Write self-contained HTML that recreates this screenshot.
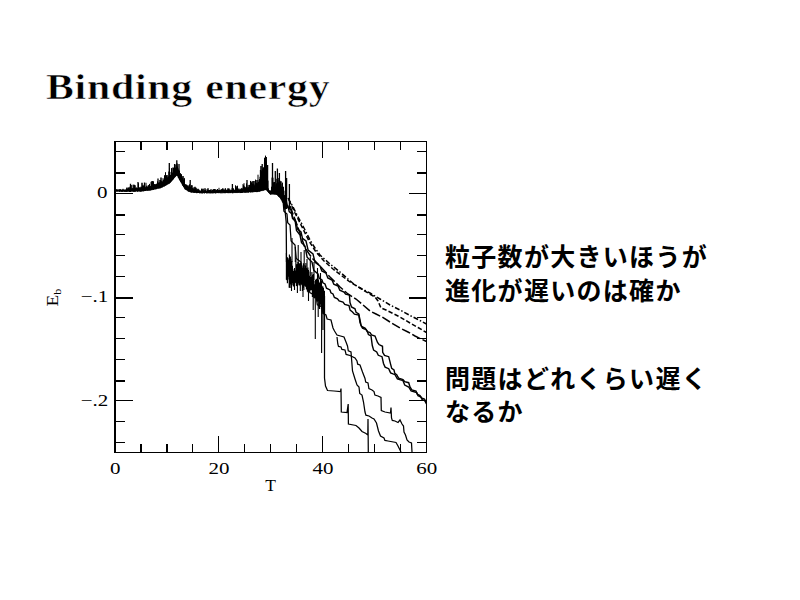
<!DOCTYPE html>
<html lang="ja">
<head>
<meta charset="utf-8">
<title>Binding energy</title>
<style>
html,body{margin:0;padding:0;background:#fff;}
body{width:800px;height:600px;position:relative;overflow:hidden;color:#000;}
#title{position:absolute;left:46px;top:64.5px;margin:0;font-family:"Liberation Serif",serif;font-weight:bold;
 font-size:36px;line-height:44px;white-space:nowrap;transform-origin:0 0;transform:scaleX(1.16);letter-spacing:0.65px;word-spacing:1px;-webkit-text-stroke:0.55px #fff;}
#plot{position:absolute;left:0;top:0;}
.jp{position:absolute;left:445px;margin:0;font-family:"Liberation Sans","Noto Sans CJK JP",sans-serif;
 font-weight:bold;font-size:25px;letter-spacing:1.3px;line-height:33.5px;white-space:nowrap;}
#p1{top:241px;}
#p2{top:362.5px;}
</style>
</head>
<body>
<h1 id="title">Binding energy</h1>
<svg id="plot" width="800" height="600" viewBox="0 0 800 600">
<g fill="#000" shape-rendering="crispEdges"><rect x="114" y="141" width="2" height="312"/><rect x="114" y="141" width="313" height="1"/><rect x="426" y="141" width="1" height="312"/><rect x="114" y="452" width="313" height="1"/><rect x="140" y="141" width="2" height="9"/><rect x="140" y="444" width="2" height="9"/><rect x="166" y="141" width="2" height="9"/><rect x="166" y="444" width="2" height="9"/><rect x="192" y="141" width="1" height="9"/><rect x="192" y="444" width="1" height="9"/><rect x="218" y="141" width="1" height="17"/><rect x="218" y="436" width="1" height="17"/><rect x="244" y="141" width="1" height="9"/><rect x="244" y="444" width="1" height="9"/><rect x="270" y="141" width="1" height="9"/><rect x="270" y="444" width="1" height="9"/><rect x="296" y="141" width="1" height="9"/><rect x="296" y="444" width="1" height="9"/><rect x="322" y="141" width="1" height="17"/><rect x="322" y="436" width="1" height="17"/><rect x="348" y="141" width="1" height="9"/><rect x="348" y="444" width="1" height="9"/><rect x="374" y="141" width="1" height="9"/><rect x="374" y="444" width="1" height="9"/><rect x="400" y="141" width="1" height="9"/><rect x="400" y="444" width="1" height="9"/><rect x="115" y="151" width="10" height="1"/><rect x="417" y="151" width="10" height="1"/><rect x="115" y="172" width="10" height="2"/><rect x="417" y="172" width="10" height="2"/><rect x="115" y="193" width="18" height="1"/><rect x="409" y="193" width="18" height="1"/><rect x="115" y="214" width="10" height="2"/><rect x="417" y="214" width="10" height="2"/><rect x="115" y="234" width="10" height="1"/><rect x="417" y="234" width="10" height="1"/><rect x="115" y="255" width="10" height="1"/><rect x="417" y="255" width="10" height="1"/><rect x="115" y="276" width="10" height="1"/><rect x="417" y="276" width="10" height="1"/><rect x="115" y="297" width="18" height="2"/><rect x="409" y="297" width="18" height="2"/><rect x="115" y="317" width="10" height="1"/><rect x="417" y="317" width="10" height="1"/><rect x="115" y="338" width="10" height="1"/><rect x="417" y="338" width="10" height="1"/><rect x="115" y="359" width="10" height="1"/><rect x="417" y="359" width="10" height="1"/><rect x="115" y="380" width="10" height="2"/><rect x="417" y="380" width="10" height="2"/><rect x="115" y="400" width="18" height="1"/><rect x="409" y="400" width="18" height="1"/><rect x="115" y="421" width="10" height="1"/><rect x="417" y="421" width="10" height="1"/><rect x="115" y="442" width="10" height="1"/><rect x="417" y="442" width="10" height="1"/></g>
<path d="M115.00 191.5V189.3M115.50 191.4V189.8M116.00 191.4V189.8M116.50 191.6V189.2M117.00 191.6V190.2M117.50 191.5V189.6M118.00 191.7V189.2M118.50 191.4V190.2M119.00 191.4V189.3M119.50 191.9V189.3M120.00 191.8V189.6M120.50 191.4V189.2M121.00 191.8V189.7M121.50 191.8V189.7M122.00 191.9V190.0M122.50 191.8V189.4M123.00 191.9V188.8M123.50 191.5V189.5M124.00 191.5V189.7M124.50 191.8V190.0M125.00 192.0V189.2M125.50 191.8V189.7M126.00 192.0V190.1M126.50 191.9V188.4M127.00 191.9V188.7M127.50 191.7V188.7M128.00 191.5V189.3M128.50 191.6V187.4M129.00 191.6V188.9M129.50 192.0V188.5M130.00 191.8V187.7M130.50 192.0V188.7M131.00 191.6V185.4M131.50 191.5V188.5M132.00 191.5V188.5M132.50 191.5V188.1M133.00 191.6V184.7M133.50 191.8V188.2M134.00 191.8V184.9M134.50 191.8V187.3M135.00 191.6V188.3M135.50 191.7V187.8M136.00 191.4V187.8M136.50 191.3V187.5M137.00 191.3V187.9M137.50 191.8V188.2M138.00 191.4V187.7M138.50 191.3V183.2M139.00 191.5V187.8M139.50 191.3V187.5M140.00 191.7V187.2M140.50 191.7V187.6M141.00 191.4V186.6M141.50 191.6V187.0M142.00 191.1V187.1M142.50 191.4V185.7M143.00 191.0V184.8M143.50 191.4V185.6M144.00 191.2V187.3M144.50 191.0V186.7M145.00 190.6V186.5M145.50 191.0V187.2M146.00 191.0V182.8M146.50 190.6V186.2M147.00 190.5V185.5M147.50 190.8V186.7M148.00 190.6V186.7M148.50 190.6V185.1M149.00 190.6V186.1M149.50 190.5V183.9M150.00 190.6V185.8M150.50 190.5V186.1M151.00 189.9V181.8M151.50 190.2V182.9M152.00 190.2V185.6M152.50 189.8V184.8M153.00 190.0V185.1M153.50 189.9V182.0M154.00 189.7V184.5M154.50 189.3V184.1M155.00 189.2V184.6M155.50 189.4V184.2M156.00 189.1V184.9M156.50 189.2V184.0M157.00 188.9V183.4M157.50 188.6V181.3M158.00 188.4V182.3M158.50 188.6V182.8M159.00 188.5V183.4M159.50 188.3V182.4M160.00 188.4V182.1M160.50 188.2V182.5M161.00 187.9V181.6M161.50 187.7V181.2M162.00 187.4V180.6M162.50 187.4V181.5M163.00 187.0V178.1M163.50 186.6V179.7M164.00 186.3V179.7M164.50 186.5V175.3M165.00 186.0V178.7M165.50 185.7V172.2M166.00 185.4V179.3M166.50 185.2V175.5M167.00 184.7V177.8M167.50 184.5V177.5M168.00 184.4V176.5M168.50 183.9V176.5M169.00 183.7V176.7M169.50 183.6V168.0M170.00 182.8V175.3M170.50 182.7V174.9M171.00 182.0V171.9M171.50 181.4V168.1M172.00 181.0V173.9M172.50 180.1V173.0M173.00 179.5V172.0M173.50 179.3V167.9M174.00 178.3V171.0M174.50 177.8V165.9M175.00 177.2V168.4M175.50 176.7V167.9M176.00 176.1V167.2M176.50 175.8V167.2M177.00 175.5V165.7M177.50 176.1V166.8M178.00 177.4V168.2M178.50 178.1V169.7M179.00 179.2V169.9M179.50 180.1V171.0M180.00 180.9V173.1M180.50 181.9V173.3M181.00 182.6V174.6M181.50 183.4V174.2M182.00 184.4V176.7M182.50 185.5V178.1M183.00 186.0V179.1M183.50 187.0V180.1M184.00 187.7V177.9M184.50 188.7V178.3M185.00 189.4V184.0M185.50 189.7V184.3M186.00 189.9V184.9M186.50 190.2V184.6M187.00 190.4V184.9M187.50 190.8V185.8M188.00 191.4V185.4M188.50 191.6V186.4M189.00 191.8V185.3M189.50 191.8V184.3M190.00 192.1V186.5M190.50 192.3V187.1M191.00 192.3V186.6M191.50 192.6V185.3M192.00 192.7V188.6M192.50 192.4V188.0M193.00 192.4V188.8M193.50 192.8V188.3M194.00 192.7V187.0M194.50 192.9V189.0M195.00 192.9V188.0M195.50 192.7V188.9M196.00 193.0V188.6M196.50 193.2V189.8M197.00 193.0V189.4M197.50 193.1V190.2M198.00 192.8V189.1M198.50 193.0V190.2M199.00 192.9V189.6M199.50 193.3V190.5M200.00 193.2V190.2M200.50 193.0V190.9M201.00 193.5V190.9M201.50 193.2V188.6M202.00 193.2V190.0M202.50 193.5V189.8M203.00 193.0V188.4M203.50 193.0V190.7M204.00 193.4V190.6M204.50 193.4V190.3M205.00 192.9V190.3M205.50 193.0V189.8M206.00 193.1V190.8M206.50 193.3V190.8M207.00 193.4V189.1M207.50 193.0V190.1M208.00 193.5V190.4M208.50 193.1V190.0M209.00 192.9V190.7M209.50 193.4V190.0M210.00 193.1V189.9M210.50 193.4V189.9M211.00 193.2V189.0M211.50 193.2V190.6M212.00 193.3V189.6M212.50 193.2V190.0M213.00 193.4V189.7M213.50 193.0V189.5M214.00 193.4V189.7M214.50 193.0V190.3M215.00 192.9V189.8M215.50 193.4V190.3M216.00 193.4V190.9M216.50 192.9V189.9M217.00 193.0V189.7M217.50 193.0V189.0M218.00 193.2V190.1M218.50 193.1V190.1M219.00 192.8V187.8M219.50 192.9V190.0M220.00 193.3V189.9M220.50 192.9V190.1M221.00 193.4V189.4M221.50 192.8V189.2M222.00 193.3V190.0M222.50 192.8V188.4M223.00 193.3V188.5M223.50 192.9V189.7M224.00 193.1V188.6M224.50 193.2V189.7M225.00 193.0V190.3M225.50 193.2V188.2M226.00 193.1V189.9M226.50 192.9V190.0M227.00 192.8V189.5M227.50 193.1V190.0M228.00 193.1V189.5M228.50 193.0V190.5M229.00 193.3V190.1M229.50 192.9V190.2M230.00 192.9V189.4M230.50 193.1V190.1M231.00 193.1V190.7M231.50 192.7V189.9M232.00 193.1V188.2M232.50 193.2V190.2M233.00 193.3V188.1M233.50 192.8V188.5M234.00 192.9V190.6M234.50 192.8V189.7M235.00 193.1V190.7M235.50 192.9V185.3M236.00 192.7V189.4M236.50 192.9V187.7M237.00 193.1V186.9M237.50 192.8V185.7M238.00 193.0V188.3M238.50 192.8V189.3M239.00 192.6V188.7M239.50 192.7V189.8M240.00 193.1V188.7M240.50 193.0V189.3M241.00 192.5V188.8M241.50 193.0V188.3M242.00 193.0V187.9M242.50 192.9V188.7M243.00 192.4V184.1M243.50 192.5V185.2M244.00 192.5V183.2M244.50 192.7V186.4M245.00 192.5V187.4M245.50 192.7V187.5M246.00 192.8V186.8M246.50 192.5V183.3M247.00 192.4V186.8M247.50 192.5V187.7M248.00 192.6V185.1M248.50 192.6V187.1M249.00 192.3V184.9M249.50 192.1V184.9M250.00 192.2V186.1M250.50 192.4V180.9M251.00 192.5V187.1M251.50 192.0V185.6M252.00 192.4V186.1M252.50 192.2V185.4M253.00 192.3V185.7M253.50 191.9V186.3M254.00 192.2V184.3M254.50 191.9V185.4M255.00 191.9V185.7M255.50 192.0V179.6M256.00 192.1V182.9M256.50 192.1V185.9M257.00 192.0V182.5M257.50 192.1V183.3M258.00 191.6V174.7M258.50 191.7V181.9M259.00 191.8V180.1M259.50 191.7V179.0M260.00 191.5V176.8M260.50 191.2V174.4M261.00 191.1V171.9M261.50 190.9V171.2M262.00 191.1V170.2M262.50 190.7V169.2M263.00 190.5V167.5M263.50 190.7V167.7M264.00 190.3V167.1M264.50 190.2V157.7M265.00 190.1V165.8M265.50 190.1V155.6M266.00 189.9V162.2M266.50 190.3V161.6M267.00 191.0V170.7M267.50 191.7V173.1M268.00 191.7V180.6M268.50 192.8V188.4M269.00 193.1V190.7M269.50 193.7V190.5M270.00 194.2V190.8M270.50 194.7V190.7M271.00 194.7V191.8M271.50 194.1V186.7M272.00 194.6V177.6M272.50 194.2V182.3M273.00 194.3V177.7M273.50 194.3V182.2M274.00 194.6V184.0M274.50 194.5V182.0M275.00 194.4V185.3M275.50 194.5V186.6M276.00 194.9V184.3M276.50 194.8V183.4M277.00 195.0V183.2M277.50 195.5V181.4M278.00 196.0V179.9M278.50 196.7V182.6M279.00 197.0V182.0M279.50 197.5V181.6M280.00 198.0V180.7M280.50 198.6V181.6M281.00 199.7V184.0M281.50 200.4V186.7M282.00 201.5V186.7M282.50 202.4V182.6M283.00 203.0V186.9M283.50 204.5V186.8M284.00 206.2V190.7M284.50 208.0V195.1M285.00 210.2V195.3" fill="none" stroke="#000" stroke-width="1.0"/>
<path d="M127.0 190.8V187.5M130.0 190.8V186.8M131.0 190.7V184.9M134.0 190.7V184.8M135.0 190.6V185.2M142.0 190.3V182.8M152.0 188.9V181.3M153.0 188.7V180.9M160.0 187.2V180.1M161.0 186.8V177.6M165.0 185.2V175.5M167.0 183.9V174.9M169.0 182.7V171.5M173.0 178.8V167.6M175.0 176.3V164.4M177.0 174.5V163.6M183.0 185.2V176.1M192.0 191.6V185.2M195.0 191.8V186.7M196.0 191.9V187.7M198.0 192.0V188.7M203.0 192.2V189.0M205.0 192.2V188.3M208.0 192.2V188.3M214.0 192.1V189.0M215.0 192.1V188.9M228.0 192.0V188.2M229.0 192.0V188.6M251.0 191.3V182.5M252.0 191.2V181.5M253.0 191.2V183.7M254.0 191.2V181.0M256.0 191.1V183.0M257.0 191.0V180.1M261.0 190.2V166.0M266.0 189.0V157.1M269.0 192.2V190.4M270.0 193.4V190.6M277.0 194.0V178.7M279.0 196.0V177.9M281.0 198.7V181.3" fill="none" stroke="#000" stroke-width="1.5"/>
<path d="M130.5 190.7V183.8M138.0 190.6V182.0M144.5 190.0V182.5M152.0 188.9V181.5M158.0 187.6V178.5M169.3 182.5V163.0M174.6 176.8V164.0M176.8 174.7V160.3M179.0 178.0V164.0M190.2 191.0V180.0M232.4 192.0V184.0M237.0 191.9V186.0M247.0 191.5V180.0M253.0 191.2V181.0M260.5 190.3V170.0M262.2 189.9V164.0M264.6 189.3V162.0M266.2 189.2V157.0M267.6 190.6V165.0M272.5 193.4V163.0M275.3 193.7V171.0M277.4 194.4V168.5M279.4 196.4V173.0M285.6 209.0V171.0M286.6 209.0V178.0M289.4 209.0V184.0" fill="none" stroke="#000" stroke-width="1.3"/>
<path d="M286.40 253.1V279.7M286.90 258.6V280.3M287.40 257.3V283.3M287.90 258.0V276.8M288.40 262.1V269.1M288.90 259.4V279.4M289.40 254.6V287.3M289.90 256.9V279.7M290.40 256.6V284.4M290.90 258.8V288.0M291.40 263.7V270.7M291.90 260.9V283.2M292.40 265.7V272.7M292.90 269.3V285.2M293.40 271.0V286.5M293.90 272.2V285.8M294.40 272.6V283.1M294.90 270.6V283.2M295.40 272.1V282.7M295.90 259.4V280.9M296.40 264.5V286.1M296.90 264.2V283.3M297.40 263.9V286.4M297.90 262.1V282.4M298.40 262.6V283.4M298.90 263.3V285.2M299.40 263.4V285.5M299.90 265.5V283.2M300.40 263.1V283.7M300.90 263.6V285.2M301.40 264.7V284.5M301.90 268.6V275.6M302.40 267.7V291.0M302.90 265.6V287.9M303.40 263.2V284.2M303.90 264.8V290.1M304.40 272.5V279.5M304.90 267.9V285.7M305.40 265.5V286.8M305.90 263.1V285.1M306.40 268.1V289.4M306.90 268.8V285.1M307.40 268.7V291.4M307.90 267.6V292.2M308.40 270.0V287.3M308.90 271.6V288.2M309.40 277.3V289.4M309.90 275.7V286.5M310.40 283.6V290.6M310.90 276.5V290.5M311.40 280.2V287.2M311.90 272.0V290.0M312.40 275.0V297.0M312.90 281.3V288.3M313.40 274.0V296.6M313.90 280.8V298.0M314.40 287.6V294.6M314.90 284.2V298.4M315.40 279.8V297.8M315.90 281.2V288.2M316.40 278.7V300.1M316.90 280.8V298.7M317.40 281.2V301.7M317.90 274.8V300.9M318.40 279.4V301.1M318.90 281.7V307.6M319.40 282.7V309.0M319.90 283.2V304.6M320.40 293.1V300.1M320.90 284.2V306.0M321.40 280.6V309.1M321.90 285.8V308.4M322.40 295.8V302.8M322.90 286.4V311.0M323.40 287.9V313.7M323.90 291.6V311.5M324.40 290.8V314.5" fill="none" stroke="#000" stroke-width="1.15"/>
<path d="M283.5 200.0 L285.0 210.0 L286.2 222.0 L286.5 262.0" fill="none" stroke="#000" stroke-width="1.3"/>
<path d="M324.5 296.0 L324.5 378.0 L325.5 386.0 L327.5 390.5 L334.0 391.0 L340.5 391.5 L341.0 388.5 L341.3 412.0 L347.0 412.5 L348.2 404.0 L348.4 424.0 L356.0 425.5 L359.0 428.0 L362.0 431.5 L366.0 433.5 L367.8 435.0 L368.0 419.0 L368.3 452.0" fill="none" stroke="#000" stroke-width="1.25"/>
<path d="M315.3 285V339M318.2 290V317M321.6 292V353M323 295V330M313.2 284V310M308.5 280V301M303 276V297M297.4 270V293M291.5 268V291M289.3 268V288M294.5 268V290M300.3 270V291" fill="none" stroke="#000" stroke-width="1.1"/>
<path d="M292 262V238M295.3 262V247M298.2 266V245M301 268V252M304.2 270V250M307 272V259M310.3 276V257M314 280V262M317.5 282V268M320.5 286V273" fill="none" stroke="#000" stroke-width="1.1"/>
<path d="M283.0 200.0 L283.9 211.2 L287.0 214.0 L287.7 222.8 L290.0 225.0 L291.1 241.0 L295.0 245.0 L296.3 258.6 L301.0 262.0 L302.5 275.6 L308.0 279.0 L309.8 292.6 L316.0 296.0 L317.3 304.8 L322.0 307.0 L322.9 313.4 L326.0 315.0 L327.1 319.0 L331.0 320.0 L333.0 328.0 L334.5 331.0 L337.0 335.0 L344.0 337.0 L346.0 342.0 L347.5 346.0 L348.3 350.8 L351.0 352.0 L351.8 362.0 L352.5 371.0 L355.0 379.0 L357.0 385.0 L359.0 387.0 L359.7 393.4 L362.0 395.0 L363.5 402.0 L365.0 412.0 L365.9 415.2 L369.0 416.0 L372.0 418.0 L374.0 419.0 L376.5 423.0 L378.5 431.0 L380.5 436.0 L384.0 438.0 L384.9 440.4 L388.0 441.0 L396.0 442.5 L398.0 446.0 L399.5 449.0 L401.0 452.0" fill="none" stroke="#000" stroke-width="1.25"/>
<path d="M337.0 337.0 L337.8 344.0 L338.5 346.4 L341.0 347.0 L341.9 349.4 L345.0 350.0 L346.1 354.4 L350.0 355.5 L355.0 358.0 L357.0 361.0 L357.7 364.2 L360.0 365.0 L362.5 372.0 L365.0 378.5 L365.7 382.1 L368.0 383.0 L368.9 388.6 L372.0 390.0 L374.0 391.5 L374.9 395.1 L378.0 396.0 L381.0 397.5 L381.3 410.5 L385.0 412.0 L390.5 413.0 L391.0 407.5 L391.5 418.0 L392.3 420.4 L395.0 421.0 L398.0 422.5 L400.0 420.0 L402.0 424.0 L403.5 426.0 L404.0 432.0 L405.5 435.0 L407.0 440.0 L409.0 442.0 L411.5 443.0 L412.0 452.0" fill="none" stroke="#000" stroke-width="1.25"/>
<path d="M284.0 200.0 L285.2 204.2 L288.0 206.0 L289.2 211.6 L292.0 214.0 L292.9 218.2 L295.0 220.0 L296.5 230.5 L300.0 235.0 L301.5 242.7 L305.0 246.0 L307.1 257.2 L312.0 262.0 L313.8 270.4 L318.0 274.0 L319.2 278.2 L322.0 280.0 L322.9 282.8 L325.0 284.0 L326.5 288.2 L330.0 290.0 L330.9 292.8 L333.0 294.0 L334.4 297.4 L337.5 298.8 L339.1 301.0 L343.0 302.0 L344.8 304.5 L349.0 305.6 L350.1 310.1 L352.5 312.0 L354.4 314.1 L358.8 315.0 L360.0 322.5 L361.5 326.4 L365.0 328.0 L367.3 331.0 L368.4 334.5 L371.0 336.0 L372.3 345.5 L373.6 350.1 L376.7 352.0 L378.3 355.3 L382.0 356.7 L383.5 363.5 L385.1 367.1 L388.7 368.7 L390.6 372.9 L395.0 374.7 L397.4 378.9 L403.0 380.7 L404.7 385.1 L408.7 387.0 L411.1 391.0 L416.7 392.7 L418.0 395.7 L421.0 397.0 L422.1 399.6 L424.7 400.7 L426.5 404.0" fill="none" stroke="#000" stroke-width="1.4"/>
<path d="M286.0 200.0 L287.5 207.0 L291.0 210.0 L292.5 218.4 L296.0 222.0 L297.5 229.0 L301.0 232.0 L302.5 238.3 L306.0 241.0 L308.1 250.1 L313.0 254.0 L315.1 262.4 L320.0 266.0 L321.8 270.9 L326.0 273.0 L327.8 277.9 L332.0 280.0 L333.8 284.2 L338.0 286.0 L339.8 290.2 L344.0 292.0 L345.6 294.1 L349.4 295.0 L350.0 302.5 L351.5 306.9 L355.0 308.8 L356.1 312.4 L358.8 314.0 L361.0 325.0 L362.5 328.1 L366.0 329.5 L367.2 331.6 L370.0 332.5 L371.5 334.9 L375.0 336.0 L377.5 342.5 L379.0 344.5 L382.5 346.3 L382.7 352.3 L384.5 355.4 L388.7 356.7 L390.7 364.7 L391.7 368.4 L394.0 370.0 L394.8 373.3 L396.7 374.7 L398.6 378.1 L403.0 379.5 L404.7 381.7 L408.7 382.7 L410.0 387.0 L411.8 389.8 L416.0 391.0 L417.2 394.1 L420.0 395.5 L421.4 397.9 L424.5 399.0 L426.5 403.0" fill="none" stroke="#000" stroke-width="1.4"/>
<path d="M288.0 198.0 L293.0 207.0 L297.0 215.0 L304.0 228.0 L310.0 240.0 L315.0 248.0 L320.0 255.0 L330.0 264.0 L340.0 272.0 L348.0 279.0 L355.0 285.0 L362.0 289.0 L370.0 293.0 L380.0 299.0 L390.0 305.0 L400.0 310.0 L410.0 315.5 L418.0 319.5 L426.5 324.0" fill="none" stroke="#000" stroke-width="1.5" stroke-dasharray="5 2 1.5 2"/>
<path d="M289.0 200.0 L295.0 213.0 L302.0 227.0 L309.0 241.0 L316.0 252.0 L324.0 261.0 L333.0 269.0 L342.0 276.0 L350.0 282.0 L360.0 288.0 L368.0 293.0 L375.0 297.0 L378.0 301.0 L381.0 308.0 L386.0 310.0 L392.0 313.0 L400.0 317.0 L410.0 323.0 L418.0 327.5 L426.5 332.5" fill="none" stroke="#000" stroke-width="1.5" stroke-dasharray="4.5 2.2"/>
<path d="M290.0 206.0 L296.0 222.0 L301.0 236.0 L305.0 248.0 L312.0 258.0 L320.0 266.0 L330.0 277.0 L340.0 287.0 L348.0 294.0 L356.0 299.0 L363.0 305.0 L370.0 311.0 L376.0 314.0 L382.0 317.0 L390.0 322.0 L400.0 328.0 L408.0 332.0 L415.0 336.0 L421.0 339.0 L426.5 341.5" fill="none" stroke="#000" stroke-width="1.5" stroke-dasharray="9 2.5"/>
<text transform="translate(115.3 474.2) scale(1.20 1)" text-anchor="middle" font-family="Liberation Serif, serif" font-size="17.5" fill="#000">0</text>
<text transform="translate(219.1 474.2) scale(1.20 1)" text-anchor="middle" font-family="Liberation Serif, serif" font-size="17.5" fill="#000">20</text>
<text transform="translate(323.0 474.2) scale(1.20 1)" text-anchor="middle" font-family="Liberation Serif, serif" font-size="17.5" fill="#000">40</text>
<text transform="translate(426.8 474.2) scale(1.20 1)" text-anchor="middle" font-family="Liberation Serif, serif" font-size="17.5" fill="#000">60</text>
<text x="270.5" y="490.7" text-anchor="middle" font-family="Liberation Serif, serif" font-size="17.5" fill="#000">T</text>
<text transform="translate(107.6 197.8) scale(1.20 1)" text-anchor="end" font-family="Liberation Serif, serif" font-size="17.5" fill="#000">0</text>
<text transform="translate(108.3 302.2) scale(1.20 1)" text-anchor="end" font-family="Liberation Serif, serif" font-size="17.5" fill="#000">−.1</text>
<text transform="translate(108.3 406.2) scale(1.20 1)" text-anchor="end" font-family="Liberation Serif, serif" font-size="17.5" fill="#000">−.2</text>
<text transform="translate(57.5 306.5) rotate(-90) scale(1.1 1)" font-family="Liberation Serif, serif" font-size="17.5" fill="#000">E<tspan font-size="11" dy="3.5">b</tspan></text>
</svg>
<p class="jp" id="p1">粒子数が大きいほうが<br>進化が遅いのは確か</p>
<p class="jp" id="p2">問題はどれくらい遅く<br>なるか</p>
</body>
</html>
